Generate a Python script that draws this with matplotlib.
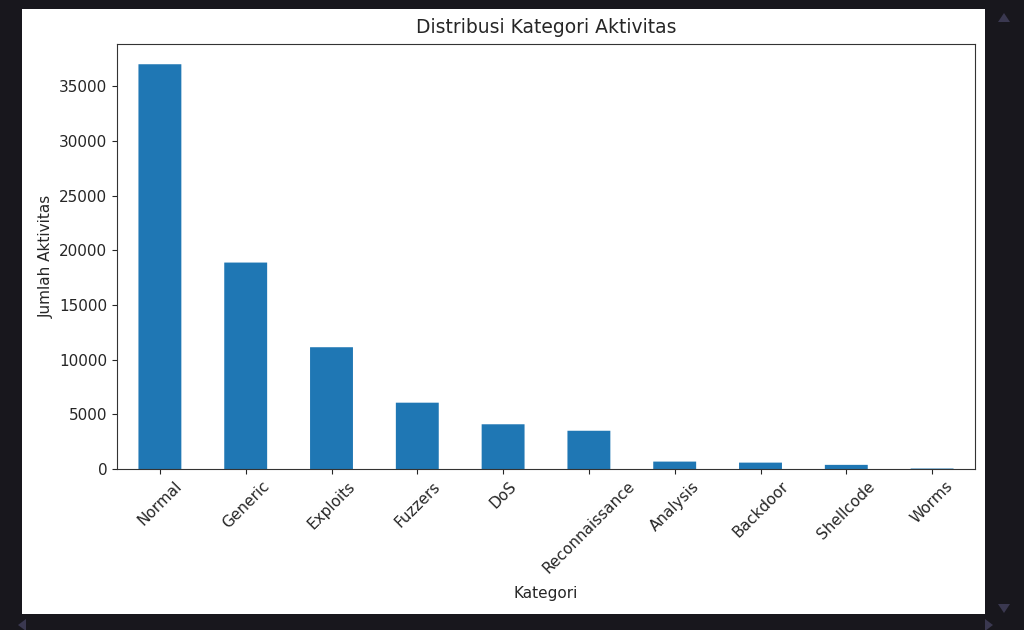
import matplotlib
matplotlib.use("Agg")
import matplotlib.pyplot as plt
from matplotlib.patches import Rectangle, Polygon

# Category counts
categories = ['Normal', 'Generic', 'Exploits', 'Fuzzers', 'DoS',
              'Reconnaissance', 'Analysis', 'Backdoor', 'Shellcode', 'Worms']
counts = [37000, 18871, 11132, 6062, 4089, 3496, 677, 583, 378, 44]

W, H = 1024, 630
plt.rcParams['font.family'] = ['DejaVu Sans']
plt.rcParams['font.size'] = 11
txt = '#262626'
plt.rcParams['text.color'] = txt
plt.rcParams['axes.labelcolor'] = txt
plt.rcParams['xtick.color'] = txt
plt.rcParams['ytick.color'] = txt
plt.rcParams['axes.edgecolor'] = '#333333'

fig = plt.figure(figsize=(W / 100, H / 100), dpi=100, facecolor='#18171d')

# white figure area inside the dark notebook frame (behind the axes)
fig.patches.append(Rectangle((22 / W, 1 - 614 / H), 963 / W, 605 / H,
                             transform=fig.transFigure, facecolor='white',
                             edgecolor='none', zorder=-10))
# scrollbar arrows
tri = '#3a3850'
arrows = [
    [(998, 22), (1010, 22), (1004, 13)],
    [(998, 604), (1010, 604), (1004, 613)],
    [(18, 625), (26, 619), (26, 631)],
    [(985, 619), (985, 631), (993, 625)],
]
for pts in arrows:
    fig.patches.append(Polygon([(px / W, 1 - py / H) for px, py in pts], closed=True,
                               transform=fig.transFigure, facecolor=tri,
                               edgecolor='none', zorder=-10))

ax = fig.add_axes([117 / W, 1 - 469 / H, (975 - 117) / W, (469 - 44) / H])
x = range(len(categories))
bars = ax.bar(x, counts, width=0.5, color='#1f77b4')
for b in bars:
    b.set_snap(False)
ax.set_xlim(-0.5, len(categories) - 0.5)
ax.set_ylim(0, 38850)
ax.set_xticks(list(x))
ax.set_xticklabels(categories, rotation=45)
ax.set_yticks([0, 5000, 10000, 15000, 20000, 25000, 30000, 35000])

ax.set_title('Distribusi Kategori Aktivitas', fontsize=13.5, pad=8)
ax.set_xlabel('Kategori', labelpad=7)
ax.set_ylabel('Jumlah Aktivitas')

fig.savefig('out.png', dpi=100, facecolor=fig.get_facecolor())
